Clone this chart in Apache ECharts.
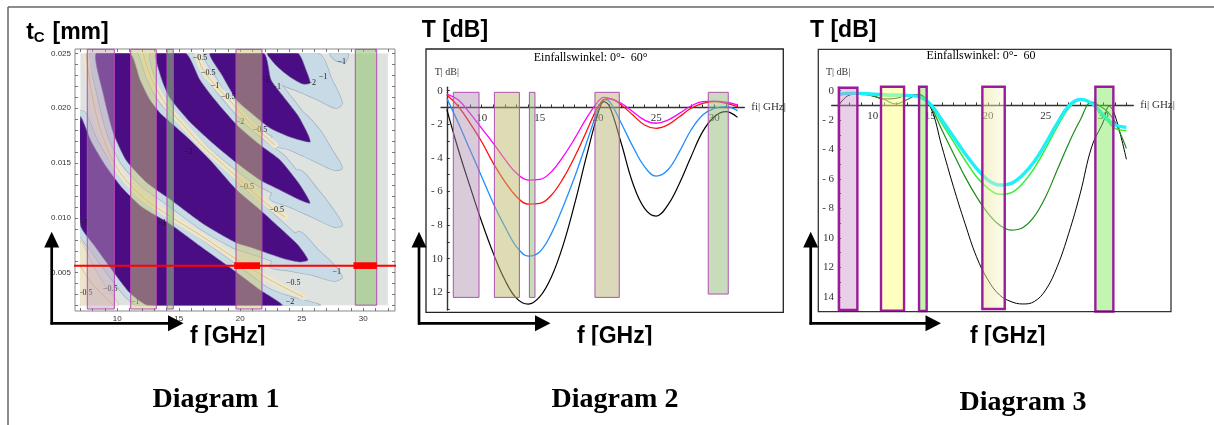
<!DOCTYPE html>
<html><head><meta charset="utf-8">
<script src="https://cdn.jsdelivr.net/npm/echarts@6/dist/echarts.min.js"></script>
<style>html,body{margin:0;padding:0;background:#fff;}#c{width:1214px;height:425px;}</style>
</head><body><div id="c"></div>
<script>
// ---------------- Diagram 1 (contour map t_C over f) ----------------
const d1XTicks = [7,8,9,10,11,12,13,14,15,16,17,18,19,20,21,22,23,24,25,26,27,28,29,30,31,32];
const d1XLabels = [10,15,20,25,30];
const d1YTicks = [0.002,0.003,0.004,0.005,0.006,0.007,0.008,0.009,0.010,0.011,0.012,0.013,0.014,0.015,0.016,0.017,0.018,0.019,0.020,0.021,0.022,0.023,0.024,0.025];
const d1YLabels = [0.005,0.010,0.015,0.020,0.025];
const d1Extent = [[7,0.002],[32,0.002],[32,0.025],[7,0.025]];
const d1LobeA = [[22.2,0.025],[24.69,0.025],[25.34,0.02348],[25.67,0.02229],[25.10,0.02220],[24.04,0.02285],[23.0,0.02380]];
const d1LobeB = [[17.54,0.025],[21.9,0.025],[22.5,0.02257],[23.4,0.02120],[24.7,0.01930],[25.50,0.01760],[25.67,0.01691],[24.04,0.01737],[22.42,0.01819],[20.79,0.01965],[19.71,0.02074],[18.51,0.02302]];
const d1LobeC = [[13.15,0.025],[15.58,0.025],[16.72,0.02257],[17.94,0.02074],[19.71,0.01847],[21.61,0.01664],[23.23,0.01527],[24.85,0.01299],[25.67,0.01135],[24.85,0.01163],[23.23,0.01254],[21.61,0.01345],[19.71,0.01500],[17.94,0.01664],[15.91,0.01874],[14.28,0.02093],[13.63,0.02257]];
const d1LobeD = [[8.27,0.025],[11.03,0.025],[11.85,0.02257],[12.66,0.02074],[13.47,0.01956],[14.28,0.01874],[15.91,0.01710],[17.54,0.01527],[19.71,0.01254],[21.61,0.01072],[23.23,0.00907],[24.69,0.00752],[25.50,0.00616],[24.85,0.00598],[23.63,0.00625],[22.42,0.00670],[20.79,0.00734],[19.71,0.00771],[17.13,0.00935],[14.37,0.01163],[12.33,0.01327],[10.71,0.01527],[9.65,0.01783],[8.84,0.02138]];
const d1LobeE = [[7,0.01919],[7.9,0.01691],[9.0,0.01482],[10.4,0.01272],[12.0,0.01099],[14.28,0.00944],[16.72,0.00743],[19.65,0.00507],[21.61,0.00342],[23.39,0.002],[12.55,0.002],[11.06,0.00312],[9.57,0.00525],[8.21,0.00737],[7,0.00935]];
const d1HaloA = [[21.20,0.025],[26.33,0.025],[27.46,0.02257],[28.28,0.02047],[27.78,0.02001],[26.33,0.02074],[24.85,0.02147],[23.63,0.02202],[22.25,0.02293]];
const d1HaloB = [[24.53,0.01983],[26.33,0.01819],[27.46,0.01619],[28.28,0.01454],[27.62,0.01436],[25.83,0.01527],[24.04,0.01619],[22.42,0.01682]];
const d1HaloC = [[24.69,0.01436],[26.33,0.01254],[27.46,0.01090],[28.28,0.00935],[27.62,0.00917],[25.83,0.01008],[24.04,0.01099],[22.42,0.01181]];
const d1HaloD = [[24.69,0.00871],[26.33,0.00707],[27.46,0.00588],[28.28,0.00461],[27.62,0.00424],[25.83,0.00479],[24.04,0.00516],[22.42,0.00561]];
const d1HaloE = [[20.79,0.00406],[23.63,0.00297],[26.50,0.002],[22.01,0.002]];
const d1HaloTop = [[27.30,0.025],[28.76,0.025],[28.52,0.02421],[27.71,0.02439]];
const d1Corner = [[7,0.0079],[7.94,0.00589],[8.92,0.00397],[10.06,0.002],[7,0.002]];
const d1Ridge0 = [[7,0.00560],[7.94,0.00400],[9.0,0.00280],[9.7,0.002]];
const d1Ridge1 = [[7.46,0.025],[7.94,0.0212],[8.76,0.01756],[9.98,0.01454],[11.68,0.01227],[13.87,0.01044],[16.72,0.00844],[19.65,0.00625],[22.42,0.00434],[25.10,0.00279]];
const d1Ridge2 = [[12.09,0.025],[12.66,0.02302],[13.47,0.0212],[14.28,0.01983],[15.58,0.01819],[16.97,0.01649],[18.36,0.01509],[19.71,0.01375],[21.03,0.01236],[22.42,0.01102],[23.63,0.01008]];
const d1Ridge3 = [[16.48,0.025],[16.97,0.02348],[18.08,0.02196],[19.33,0.02047],[20.52,0.01892],[21.61,0.01783],[22.82,0.01664]];
const d1ContourLabels = [
  [16.72,0.02454,'\u22120.5'],[17.40,0.02318,'\u22120.5'],[17.94,0.02202,'\u22121'],[19.02,0.02104,'\u22120.5'],
  [19.98,0.01876,'\u22122'],[21.61,0.01801,'\u22120.5'],[22.01,0.02257,'\u22122'],[22.96,0.02196,'\u22121'],
  [25.80,0.02227,'\u22122'],[26.75,0.02287,'\u22121'],[28.24,0.02423,'\u22121'],[15.77,0.01603,'\u22122'],
  [20.52,0.01284,'\u22120.5'],[22.96,0.01072,'\u22120.5'],[27.84,0.00509,'\u22121'],[24.31,0.00403,'\u22120.5'],
  [24.04,0.00236,'\u22122'],[13.63,0.00950,'\u22121'],[7.27,0.00950,'\u22121'],[7.40,0.00312,'\u22120.5'],
  [9.43,0.00349,'\u22120.5'],[11.46,0.00236,'\u22121']
];
const d1Bands = [[7.56,9.76],[11.09,13.17],[14.04,14.55],[19.65,21.76],[29.35,31.09]];
const d1BandTop = [0.02536,0.02536,0.02536,0.02536,0.02536];
const d1BandBottom = [0.00169,0.00169,0.00169,0.00169,0.00204];
const d1RedLine = [[6.0,0.00564],[32.72,0.00564]];
const d1RedBoxes = [[19.5,21.6],[29.2,31.1]];
const d1RedBoxT = [0.00534,0.00595];

// ---------------- Diagram 2 ----------------
const d2XTicks = [7,8,9,10,11,12,13,14,15,16,17,18,19,20,21,22,23,24,25,26,27,28,29,30,31,32];
const d2XLabels = [10,15,20,25,30];
const d2YTicks = [0,-1,-2,-3,-4,-5,-6,-7,-8,-9,-10,-11,-12,-13];
const d2YLabels = [0,-2,-4,-6,-8,-10,-12];
const d2Freq = [7,8,9,10,11,12,13,14,15,16,17,18,19,20,20.5,21,22,23,24,25,26,27,28,29,30,31,32];
const d2Black = [-1.11,-3.53,-5.71,-7.80,-9.68,-11.27,-12.36,-12.70,-12.26,-11.07,-9.19,-6.71,-3.93,-1.35,-0.65,-0.95,-3.13,-5.52,-7.00,-7.46,-6.81,-5.52,-3.93,-2.44,-1.55,-1.25,-1.59];
const d2Blue = [-0.46,-1.94,-3.53,-5.12,-6.71,-8.10,-9.29,-9.84,-9.58,-8.49,-6.90,-5.12,-3.13,-1.15,-0.52,-0.65,-1.94,-3.33,-4.52,-5.08,-4.72,-3.63,-2.34,-1.45,-1.05,-0.95,-1.19];
const d2Red = [-0.26,-0.95,-1.94,-3.04,-4.33,-5.42,-6.31,-6.75,-6.71,-6.21,-5.22,-3.93,-2.44,-0.95,-0.56,-0.48,-0.85,-1.45,-2.04,-2.24,-2.04,-1.55,-1.05,-0.75,-0.65,-0.75,-0.95];
const d2Magenta = [-0.20,-0.56,-1.35,-2.24,-3.13,-4.09,-4.92,-5.32,-5.28,-4.82,-3.93,-2.84,-1.65,-0.65,-0.40,-0.46,-0.75,-1.25,-1.75,-1.94,-1.75,-1.35,-0.91,-0.65,-0.62,-0.69,-0.85];
const d2Bands = [[7.56,9.77],[11.09,13.24],[14.10,14.58],[19.74,21.83],[29.48,31.20]];
const d2BandTop = [-0.1,-0.1,-0.1,-0.1,-0.1];
const d2BandBottom = [-12.3,-12.3,-12.3,-12.3,-12.1];

// ---------------- Diagram 3 ----------------
const d3XTicks = [7,8,9,10,11,12,13,14,15,16,17,18,19,20,21,22,23,24,25,26,27,28,29,30,31,32];
const d3XLabels = [10,15,20,25,30];
const d3YTicks = [0,-1,-2,-3,-4,-5,-6,-7,-8,-9,-10,-11,-12,-13,-14];
const d3YLabels = [0,-2,-4,-6,-8,-10,-12,-14];
const d3Freq = [7,8,9,10,11,12,13,14,15,16,17,18,19,20,21,22,23,24,25,26,27,28,29,30,30.5,31,32];
const d3Cyan = [-0.23,-0.18,-0.18,-0.23,-0.27,-0.29,-0.32,-0.41,-0.91,-1.99,-3.13,-4.26,-5.28,-6.07,-6.41,-6.30,-5.73,-4.83,-3.58,-2.22,-1.04,-0.59,-0.86,-1.65,-2.04,-2.33,-2.49];
const d3Lime = [-0.29,-0.23,-0.25,-0.29,-0.34,-0.36,-0.36,-0.41,-0.97,-2.22,-3.46,-4.71,-5.84,-6.63,-7.04,-6.93,-6.30,-5.28,-3.92,-2.45,-1.20,-0.63,-0.91,-1.77,-2.17,-2.56,-2.72];
const d3Green = [-0.25,-0.18,-0.20,-0.35,-0.60,-0.90,-0.60,-0.25,-1.04,-2.67,-4.26,-5.84,-7.20,-8.33,-9.13,-9.47,-9.31,-8.56,-7.20,-5.39,-3.58,-1.99,-0.77,-1.20,-1.54,-2.10,-3.92];
const d3Black = [-1.05,-0.29,-0.22,-0.36,-0.56,-0.52,-0.32,-0.29,-1.10,-3.80,-6.52,-9.01,-11.28,-12.86,-13.88,-14.33,-14.49,-14.33,-13.54,-11.96,-9.69,-6.97,-3.80,-2.11,-1.04,-1.65,-4.66];
const d3Bands = [[7.08,8.67],[10.72,12.72],[14.02,14.68],[19.51,21.45],[29.31,30.87]];
const d3BandTop = [0.2,0.27,0.27,0.27,0.27];
const d3BandBottom = [-14.89,-14.95,-14.97,-14.83,-15.0];

// ---------------- rendering ----------------
const SERIF = '"Liberation Serif","Times New Roman",serif';
const SANS = '"Liberation Sans",Arial,sans-serif';
const chart = echarts.init(document.getElementById('c'));

const lobes = [d1LobeA, d1LobeB, d1LobeC, d1LobeD, d1LobeE];
const fingers = [d1HaloA, d1HaloB, d1HaloC, d1HaloD, d1HaloE, d1HaloTop];
const haloShapes = lobes.concat(fingers);
const nL = lobes.length;
const ridges = [d1Ridge0, d1Ridge1, d1Ridge2, d1Ridge3];

function polyEl(api, poly, style, smooth) {
  return {type:'polygon', shape:{points: poly.map(p => api.coord(p)), smooth: smooth || 0}, style: style};
}
function bandSeries(xi, yi, bands, tops, bottoms, fills, stroke, lw, z) {
  return {type:'custom', xAxisIndex:xi, yAxisIndex:yi, z:z, silent:true,
    data: bands.map((b,i) => [b[0], tops[i]]),
    renderItem: function(params, api) {
      const i = params.dataIndex;
      const p0 = api.coord([bands[i][0], tops[i]]);
      const p1 = api.coord([bands[i][1], bottoms[i]]);
      return {type:'rect', shape:{x:p0[0], y:p0[1], width:p1[0]-p0[0], height:p1[1]-p0[1]},
        style:{fill:fills[i], stroke:stroke, lineWidth:lw}};
    }};
}
function lineSeries(xi, yi, xs, ys, color, width, z) {
  return {type:'line', xAxisIndex:xi, yAxisIndex:yi, z:z, silent:true, symbol:'none', smooth:0.4,
    clip:false, data: xs.map((x,i) => [x, ys[i]]), lineStyle:{color:color, width:width}};
}
const dbFmt = v => v === 0 ? '0' : (v > -10 ? '- ' + (-v) : String(-v));

const tickStyle = {color:'#555', width:0.8};
function frameX(pos, show) {
  return {gridIndex:0, type:'value', min:6.561, max:32.577, position:pos,
    axisLine:{show:false, onZero:false}, splitLine:{show:false},
    axisTick:{show:true, inside:true, length:3, customValues:d1XTicks, lineStyle:tickStyle},
    axisLabel:{show:show, customValues:d1XLabels, margin:4, fontSize:8, color:'#333', fontFamily:SANS}};
}
function frameY(pos, show) {
  return {gridIndex:0, type:'value', min:0.001508, max:0.025392, position:pos,
    axisLine:{show:false, onZero:false}, splitLine:{show:false},
    axisTick:{show:true, inside:true, length:3, customValues:d1YTicks, lineStyle:tickStyle},
    axisLabel:{show:show, customValues:d1YLabels, margin:4, fontSize:8, color:'#333', fontFamily:SANS,
      formatter: v => v.toFixed(3)}};
}
function hidden(g, min, max) { return {gridIndex:g, type:'value', min:min, max:max, show:false}; }
function plotX(g, min, max, ticks, labels) {
  return {gridIndex:g, type:'value', min:min, max:max, position:'bottom',
    axisLine:{show:true, onZero:false, lineStyle:{color:'#333', width:1.4}},
    splitLine:{show:false},
    axisTick:{show:true, inside:true, length:3, customValues:ticks, lineStyle:{color:'#333', width:1}},
    axisLabel:{show:true, customValues:labels, margin:5, fontSize:11, color:'#333', fontFamily:SERIF},
    name:'fi| GHz|', nameLocation:'end', nameGap:7,
    nameTextStyle:{fontFamily:SERIF, fontSize:11, color:'#333'}};
}
function plotY(g, min, max, ticks, labels) {
  return {gridIndex:g, type:'value', min:min, max:max, position:'left',
    axisLine:{show:true, onZero:false, lineStyle:{color:'#333', width:1.4}},
    splitLine:{show:false},
    axisTick:{show:true, inside:true, length:3, customValues:ticks, lineStyle:{color:'#333', width:1}},
    axisLabel:{show:true, customValues:labels, margin:4, fontSize:11, color:'#333', fontFamily:SERIF, formatter:dbFmt},
    name:'T| dB|', nameLocation:'end', nameGap:10,
    nameTextStyle:{fontFamily:SERIF, fontSize:10, color:'#333'}};
}
function G(o) { return Object.assign({containLabel:false, outerBoundsMode:'none'}, o); }

const series = [];
// Diagram 1 fill layers (grid 1)
series.push({type:'custom', xAxisIndex:2, yAxisIndex:2, clip:true, z:1, silent:true,
  data:[d1Extent[0]], renderItem:(p, api) => polyEl(api, d1Extent, {fill:'#dfe3df'})});
series.push({type:'custom', xAxisIndex:2, yAxisIndex:2, clip:true, z:2, silent:true,
  data: haloShapes.map(s => s[0]),
  renderItem:(p, api) => {
    const i = p.dataIndex;
    return i < nL
      ? polyEl(api, haloShapes[i], {fill:'#a3b3bf', stroke:'#a3b3bf', lineWidth:13.4, lineJoin:'round'}, 0.2)
      : polyEl(api, haloShapes[i], {fill:'#a3b3bf', stroke:'#a3b3bf', lineWidth:1.5, lineJoin:'round'}, 0.3);
  }});
series.push({type:'custom', xAxisIndex:2, yAxisIndex:2, clip:true, z:3, silent:true,
  data: haloShapes.map(s => s[0]),
  renderItem:(p, api) => {
    const i = p.dataIndex;
    return i < nL
      ? polyEl(api, haloShapes[i], {fill:'#c8dae6', stroke:'#c8dae6', lineWidth:12, lineJoin:'round'}, 0.2)
      : polyEl(api, haloShapes[i], {fill:'#c8dae6', stroke:null, lineWidth:0}, 0.3);
  }});
series.push({type:'custom', xAxisIndex:2, yAxisIndex:2, clip:true, z:4, silent:true,
  data: lobes.map(s => s[0]),
  renderItem:(p, api) => polyEl(api, lobes[p.dataIndex], {fill:'#4b0d83', stroke:'#6a5a90', lineWidth:0.6}, 0.2)});
series.push({type:'custom', xAxisIndex:2, yAxisIndex:2, clip:true, z:5, silent:true,
  data:[d1Corner[0]], renderItem:(p, api) => polyEl(api, d1Corner, {fill:'#ebe5cc', stroke:'#b9b9a6', lineWidth:0.6}, 0.3)});
series.push({type:'custom', xAxisIndex:2, yAxisIndex:2, clip:true, z:5, silent:true,
  data: ridges.map(r => r[0]),
  renderItem:(p, api) => {
    const pts = ridges[p.dataIndex].map(q => api.coord(q));
    return {type:'group', children:[
      {type:'polyline', shape:{points:pts, smooth:0.35}, style:{fill:null, stroke:'#eee6c8', lineWidth:6, lineCap:'round', lineJoin:'round'}},
      {type:'polyline', shape:{points:pts, smooth:0.35}, style:{fill:null, stroke:'#c6b58c', lineWidth:0.7}}
    ]};
  }});
series.push({type:'custom', xAxisIndex:2, yAxisIndex:2, clip:true, z:6, silent:true,
  data: d1ContourLabels.map(d => [d[0], d[1]]),
  renderItem:(p, api) => {
    const d = d1ContourLabels[p.dataIndex];
    const c = api.coord([d[0], d[1]]);
    return {type:'text', x:c[0], y:c[1], style:{text:d[2], font:'8px ' + SERIF,
      fill:'#1a1a1a', align:'center', verticalAlign:'middle', textAlign:'center', textVerticalAlign:'middle'}};
  }});
// Diagram 1 overlays (grid 0)
series.push(bandSeries(0, 0, d1Bands, d1BandTop, d1BandBottom,
  ['rgba(190,160,185,0.45)','rgba(205,200,120,0.5)','rgba(140,200,120,0.55)','rgba(205,198,120,0.5)','rgba(150,195,120,0.6)'],
  '#b848b8', 1, 7));
series.push({type:'line', xAxisIndex:0, yAxisIndex:0, z:8, silent:true, symbol:'none', clip:false,
  data:d1RedLine, lineStyle:{color:'#ff0000', width:2}});
series.push({type:'custom', xAxisIndex:0, yAxisIndex:0, z:9, silent:true,
  data: d1RedBoxes.map(b => [b[0], d1RedBoxT[1]]),
  renderItem:(p, api) => {
    const b = d1RedBoxes[p.dataIndex];
    const p0 = api.coord([b[0], d1RedBoxT[1]]), p1 = api.coord([b[1], d1RedBoxT[0]]);
    return {type:'rect', shape:{x:p0[0], y:p0[1], width:p1[0]-p0[0], height:p1[1]-p0[1]}, style:{fill:'#ff0000'}};
  }});
// Diagram 2 (plot grid 2 -> xAxis 3 / yAxis 3)
series.push(lineSeries(3, 3, d2Freq, d2Black, '#000000', 1.2, 3));
series.push(lineSeries(3, 3, d2Freq, d2Blue, '#1e8fff', 1.3, 3));
series.push(lineSeries(3, 3, d2Freq, d2Red, '#ff1010', 1.3, 3));
series.push(lineSeries(3, 3, d2Freq, d2Magenta, '#ff00ff', 1.3, 3));
series.push(bandSeries(3, 3, d2Bands, d2BandTop, d2BandBottom,
  ['rgba(170,140,170,0.45)','rgba(190,185,105,0.5)','rgba(145,185,115,0.5)','rgba(185,178,118,0.5)','rgba(145,185,120,0.5)'],
  '#b050b0', 1, 6));
// Diagram 3 (plot grid 5 -> xAxis 6 / yAxis 6)
series.push(lineSeries(6, 6, d3Freq, d3Black, '#000000', 1.0, 3));
series.push(lineSeries(6, 6, d3Freq, d3Green, '#1a8c1a', 1.2, 3));
series.push(lineSeries(6, 6, d3Freq, d3Lime, '#33ee33', 1.5, 3));
series.push(lineSeries(6, 6, d3Freq, d3Cyan, '#1ff0f8', 3.4, 3));
series.push(bandSeries(6, 6, d3Bands, d3BandTop, d3BandBottom,
  ['rgba(205,150,200,0.45)','rgba(255,255,130,0.5)','rgba(120,230,80,0.45)',
   {type:'linear', x:0, y:0, x2:1, y2:0, colorStops:[{offset:0, color:'rgba(232,226,150,0.55)'},{offset:1, color:'rgba(250,250,215,0.4)'}]},
   'rgba(120,235,80,0.45)'],
  '#9b1b9b', 2.4, 6));

function txt(x, y, text, font, align) {
  return {type:'text', x:x, y:y, z:20, silent:true,
    style:{text:text, font:font, fill:'#000', align:align || 'left', verticalAlign:'middle',
      textAlign:align || 'left', textVerticalAlign:'middle'}};
}
function arrowV(x) {
  return [
    {type:'line', z:20, silent:true, shape:{x1:x, y1:324.6, x2:x, y2:245}, style:{stroke:'#000', lineWidth:2.7}},
    {type:'polygon', z:20, silent:true, shape:{points:[[x,231.7],[x-7.5,247.5],[x+7.5,247.5]]}, style:{fill:'#000'}}
  ];
}
function arrowH(x0, tip) {
  return [
    {type:'line', z:20, silent:true, shape:{x1:x0, y1:323.3, x2:tip-14, y2:323.3}, style:{stroke:'#000', lineWidth:2.7}},
    {type:'polygon', z:20, silent:true, shape:{points:[[tip,323.3],[tip-15.5,315.3],[tip-15.5,331.3]]}, style:{fill:'#000'}}
  ];
}
const BIG = 'bold 23px ' + SANS;
const DIAG = 'bold 28px ' + SERIF;
const graphics = [
  {type:'line', z:20, silent:true, shape:{x1:8, y1:7, x2:1214, y2:7}, style:{stroke:'#666', lineWidth:1.5}},
  {type:'line', z:20, silent:true, shape:{x1:8, y1:7, x2:8, y2:425}, style:{stroke:'#666', lineWidth:1.5}},
  {type:'rect', z:20, silent:true, shape:{x:426, y:49, width:357.3, height:263.3}, style:{fill:null, stroke:'#222', lineWidth:1.3}},
  {type:'rect', z:20, silent:true, shape:{x:818.3, y:49.3, width:352.7, height:262.4}, style:{fill:null, stroke:'#333', lineWidth:1.3}},
  txt(26.3, 33, 't', BIG), txt(33.8, 38.3, 'C', 'bold 15px ' + SANS), txt(52.5, 33, '[mm]', BIG),
  txt(421.7, 31, 'T [dB]', BIG), txt(810, 30.5, 'T [dB]', BIG),
  txt(190, 336.5, 'f [GHz]', BIG), txt(577, 336.5, 'f [GHz]', BIG), txt(970, 336.5, 'f [GHz]', BIG),
  {type:'rect', z:21, silent:true, shape:{x:185, y:345.5, width:90, height:8}, style:{fill:'#fff'}},
  {type:'rect', z:21, silent:true, shape:{x:572, y:345.5, width:90, height:8}, style:{fill:'#fff'}},
  {type:'rect', z:21, silent:true, shape:{x:965, y:345.5, width:90, height:8}, style:{fill:'#fff'}},
  txt(216, 399.5, 'Diagram 1', DIAG, 'center'), txt(615, 399.5, 'Diagram 2', DIAG, 'center'), txt(1023, 402.5, 'Diagram 3', DIAG, 'center'),
  txt(590.7, 57.5, 'Einfallswinkel: 0\u00b0-  60\u00b0', '12px ' + SERIF, 'center'),
  txt(981, 56, 'Einfallswinkel: 0\u00b0-  60', '12px ' + SERIF, 'center')
].concat(arrowV(51.7), arrowH(50.5, 183.5), arrowV(419), arrowH(418, 550.5), arrowV(810.7), arrowH(809.5, 941));

chart.setOption({
  animation:false,
  backgroundColor:'#ffffff',
  grid:[
    G({left:75, top:49, width:320, height:262, show:true, borderColor:'#888', borderWidth:1, backgroundColor:'transparent'}),
    G({left:80.4, top:53.3, width:307.5, height:252.3}),
    G({left:441, top:87.3, width:303.3, height:222.7}),
    G({left:441, top:87.3, width:303.3, height:20.17}),
    G({left:446.81, top:87.3, width:297.49, height:222.7}),
    G({left:831.7, top:87.3, width:301.6, height:222.7}),
    G({left:831.7, top:87.3, width:301.6, height:18.12}),
    G({left:838.11, top:87.3, width:295.19, height:222.7})
  ],
  xAxis:[
    frameX('bottom', true), frameX('top', false),
    hidden(1, 7, 32),
    hidden(2, 6.5, 32.58),
    plotX(3, 6.5, 32.58, d2XTicks, d2XLabels),
    hidden(4, 7, 32.58),
    hidden(5, 6.444, 32.60),
    plotX(6, 6.444, 32.60, d3XTicks, d3XLabels),
    hidden(7, 7, 32.60)
  ],
  yAxis:[
    frameY('left', true), frameY('right', false),
    hidden(1, 0.002, 0.025),
    hidden(2, -13.05, 0.2),
    hidden(3, -1, 0.2),
    plotY(4, -13.05, 0.2, d2YTicks, d2YLabels),
    hidden(5, -14.9, 0.231),
    hidden(6, -1, 0.231),
    plotY(7, -14.9, 0.231, d3YTicks, d3YLabels)
  ],
  series:series,
  graphic:{elements:graphics}
});
</script></body></html>
